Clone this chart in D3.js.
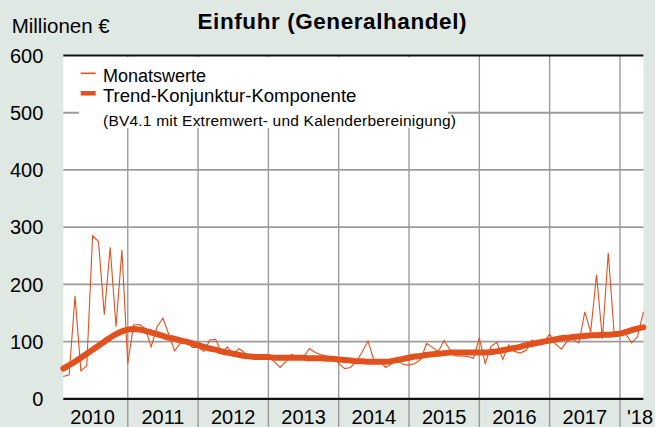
<!DOCTYPE html>
<html lang="de">
<head>
  <meta charset="utf-8"/>
  <title>Einfuhr (Generalhandel)</title>
  <script src="https://d3js.org/d3.v7.min.js"></script>
  <style>
    body { margin: 0; background: #dfe8e3; }
    svg { display: block; font-family: "Liberation Sans", Arial, sans-serif; }
  </style>
</head>
<body>
<svg id="chart" width="655" height="427"></svg>

<script>
  // Monatswerte, Jan 2010 - Apr 2018 (Millionen Euro)
  const monat2010 = [39, 42, 180, 49, 58, 285, 275, 147, 265, 126, 260, 62];
  const monat2011 = [129, 130, 123, 91, 126, 141, 113, 84, 98, 103, 90, 90];
  const monat2012 = [83, 103, 104, 80, 91, 78, 88, 80, 74, 72, 75, 74];
  const monat2013 = [65, 55, 65, 78, 71, 73, 88, 81, 77, 75, 73, 62];
  const monat2014 = [53, 55, 65, 82, 101, 68, 67, 55, 61, 68, 60, 59];
  const monat2015 = [62, 69, 97, 90, 83, 102, 85, 75, 75, 74, 71, 106];
  const monat2016 = [62, 92, 99, 69, 94, 83, 80, 85, 103, 97, 100, 113];
  const monat2017 = [96, 87, 101, 104, 98, 152, 117, 217, 105, 255, 116, 115];
  const monat2018 = [113, 98, 109, 152];

  // Trend-Konjunktur-Komponente
  const trend2010 = [53, 59, 65, 72, 79, 86, 93, 100, 107, 113, 118, 121];
  const trend2011 = [122, 121, 119, 116, 113, 110, 107, 105, 102, 100, 97, 94];
  const trend2012 = [91, 88, 86, 83, 81, 79, 77, 75, 74, 73, 73, 73];
  const trend2013 = [72, 72, 72, 72, 72, 72, 71, 71, 71, 70, 70, 69];
  const trend2014 = [68, 67, 66, 66, 65, 65, 65, 65, 66, 68, 70, 72];
  const trend2015 = [74, 75, 77, 78, 79, 80, 81, 81, 81, 81, 81, 81];
  const trend2016 = [81, 82, 83, 85, 87, 89, 91, 94, 96, 98, 100, 102];
  const trend2017 = [104, 106, 107, 108, 109, 110, 111, 111, 112, 112, 113, 114];
  const trend2018 = [117, 120, 123, 125];

  const jahre = ["2010", "2011", "2012", "2013", "2014", "2015", "2016", "2017", "'18"];
  const yTicks = [0, 100, 200, 300, 400, 500, 600];

  const monatswerte = [].concat(monat2010, monat2011, monat2012, monat2013, monat2014,
    monat2015, monat2016, monat2017, monat2018);
  const trend = [].concat(trend2010, trend2011, trend2012, trend2013, trend2014,
    trend2015, trend2016, trend2017, trend2018);

  const rot = "#e2501e";
  const gitter = "#9c9c9c";

  const svg = d3.select("#chart");
  const plotLeft = 63.3, plotRight = 643.4, plotTop = 55.5, plotBottom = 398.9;

  // index 0 = Ende Januar 2010
  const x = d3.scaleLinear().domain([0, monatswerte.length - 1]).range([plotLeft, plotRight]);
  const y = d3.scaleLinear().domain([0, 600]).range([plotBottom, plotTop]);

  svg.append("rect")
    .attr("width", 655).attr("height", 427)
    .attr("fill", "#dfe8e3");

  svg.append("rect")
    .attr("x", plotLeft).attr("y", plotTop)
    .attr("width", plotRight - plotLeft).attr("height", plotBottom - plotTop)
    .attr("fill", "#ffffff");

  // horizontal grid
  svg.selectAll(".hgrid")
    .data(yTicks.filter(d => d > 0 && d < 600))
    .enter().append("line")
    .attr("x1", plotLeft).attr("x2", plotRight)
    .attr("y1", d => y(d)).attr("y2", d => y(d))
    .attr("stroke", gitter).attr("stroke-width", 1.8);

  // Jahresgrenzen (Ende Dezember), reichen bis unter die Achse
  const grenzen = d3.range(1, jahre.length).map(k => 12 * k - 1);
  svg.selectAll(".vgrid")
    .data(grenzen)
    .enter().append("line")
    .attr("x1", d => x(d)).attr("x2", d => x(d))
    .attr("y1", plotTop).attr("y2", 427)
    .attr("stroke", gitter).attr("stroke-width", 1.4);

  // Legende mit weissem Hintergrund
  svg.append("rect")
    .attr("x", 79).attr("y", plotTop + 1.5)
    .attr("width", 369).attr("height", 71)
    .attr("fill", "#ffffff");

  const legende = svg.append("g");
  legende.append("line")
    .attr("x1", 80.7).attr("x2", 95.7).attr("y1", 73.3).attr("y2", 73.3)
    .attr("stroke", rot).attr("stroke-width", 1.6);
  legende.append("line")
    .attr("x1", 80.7).attr("x2", 95.7).attr("y1", 93.3).attr("y2", 93.3)
    .attr("stroke", rot).attr("stroke-width", 4.5);
  legende.append("text")
    .attr("x", 103).attr("y", 81.7)
    .style("font-size", "18px")
    .text("Monatswerte");
  legende.append("text")
    .attr("x", 103).attr("y", 102)
    .style("font-size", "18.5px")
    .text("Trend-Konjunktur-Komponente");
  legende.append("text")
    .attr("x", 103).attr("y", 125.5)
    .style("font-size", "15.5px")
    .attr("textLength", 353)
    .text("(BV4.1 mit Extremwert- und Kalenderbereinigung)");

  // Linien
  svg.append("path")
    .datum(monatswerte)
    .attr("fill", "none")
    .attr("stroke", rot)
    .attr("stroke-width", 1.1)
    .attr("stroke-linejoin", "miter")
    .attr("d", d3.line().x((d, i) => x(i)).y(d => y(d)));

  svg.append("path")
    .datum(trend)
    .attr("fill", "none")
    .attr("stroke", rot)
    .attr("stroke-width", 6)
    .attr("stroke-linecap", "round")
    .attr("d", d3.line().x((d, i) => x(i)).y(d => y(d)).curve(d3.curveMonotoneX));

  // obere Linie und Nulllinie
  svg.selectAll(".rand")
    .data([0, 600])
    .enter().append("line")
    .attr("x1", plotLeft).attr("x2", plotRight)
    .attr("y1", d => y(d)).attr("y2", d => y(d))
    .attr("stroke", "#111").attr("stroke-width", 2.2);

  // y-Achse Beschriftung
  svg.selectAll(".ytick")
    .data(yTicks)
    .enter().append("text")
    .attr("x", 43.3)
    .attr("y", d => y(d))
    .attr("dy", "0.36em")
    .attr("text-anchor", "end")
    .style("font-size", "20px")
    .text(d => d);

  // Jahresbeschriftung
  svg.selectAll(".xlabel")
    .data(jahre)
    .enter().append("text")
    .attr("x", (d, k) => k < jahre.length - 1 ? x(12 * k + 5) : x(12 * k - 1) + 7)
    .attr("y", 424)
    .attr("text-anchor", (d, k) => k < jahre.length - 1 ? "middle" : "start")
    .style("font-size", "20px")
    .text(d => d);

  svg.append("text")
    .attr("x", 11.7).attr("y", 33)
    .style("font-size", "20.5px")
    .text("Millionen €");

  svg.append("text")
    .attr("x", 332).attr("y", 29)
    .attr("text-anchor", "middle")
    .attr("textLength", 269)
    .style("font-size", "22.5px")
    .style("font-weight", "bold")
    .text("Einfuhr (Generalhandel)");
</script>
</body>
</html>
